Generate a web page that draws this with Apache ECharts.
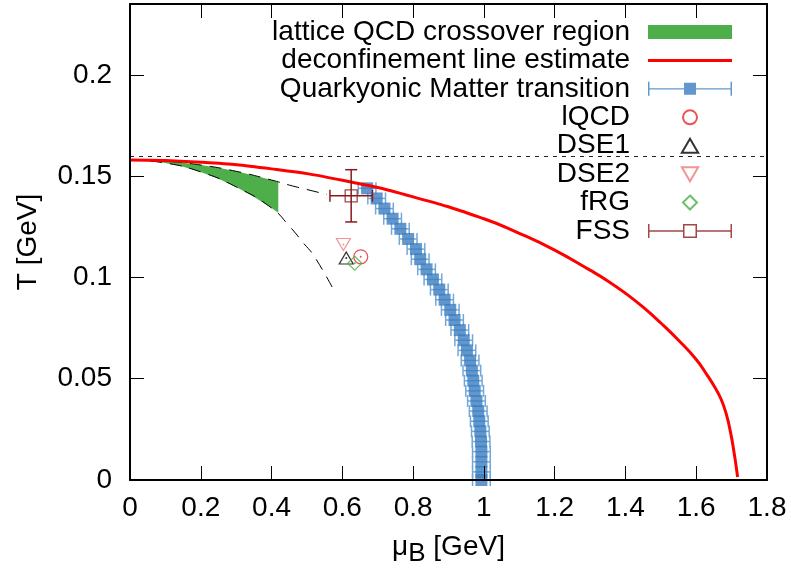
<!DOCTYPE html>
<html>
<head>
<meta charset="utf-8">
<script src="https://cdn.jsdelivr.net/npm/echarts@6/dist/echarts.min.js"></script>
<style>
  html, body { margin: 0; padding: 0; background: #fff; }
  #wrap { position: relative; width: 791px; height: 572px; }
  #chart, #frame { position: absolute; left: 0; top: 0; width: 791px; height: 572px; }
  #frame { pointer-events: none; }
</style>
</head>
<body>
<div id="wrap">
  <div id="chart"></div>
  <div id="frame"></div>
</div>
<script>
// values: mu_B and T in GeV
var TC = 0.158;
var X_MIN = 0, X_MAX = 1.8, Y_MIN = 0, Y_MAX = 0.235;

// lattice QCD crossover band
var latticeMu    = [0, 0.05, 0.10, 0.15, 0.20, 0.25, 0.30, 0.35, 0.40, 0.419];
var latticeUpper = [0.158, 0.1578, 0.1574, 0.1566, 0.1555, 0.1541, 0.1524, 0.1503, 0.1481, 0.147];
var latticeLower = [0.158, 0.1576, 0.1565, 0.1547, 0.1521, 0.1487, 0.1447, 0.1399, 0.1343, 0.132];

// dashed extrapolations of the band edges
var upperDashMu = [0, 0.1, 0.2, 0.3, 0.4, 0.45, 0.5, 0.556];
var upperDashT  = [0.158, 0.1574, 0.1555, 0.1524, 0.1481, 0.1456, 0.1434, 0.141];
var lowerDashMu = [0, 0.1, 0.2, 0.3, 0.4, 0.45, 0.49, 0.52, 0.575];
var lowerDashT  = [0.158, 0.1565, 0.1521, 0.1447, 0.1343, 0.1254, 0.117, 0.1106, 0.094];

// deconfinement line estimate
var deconfMu = [0, 0.2, 0.4, 0.6, 0.8, 1.0, 1.1, 1.2, 1.3, 1.35, 1.4, 1.45, 1.5, 1.55,
                1.6, 1.63, 1.65, 1.67, 1.685, 1.697, 1.707, 1.713, 1.717];
var deconfT  = [0.158, 0.1569, 0.1536, 0.148, 0.1398, 0.129, 0.1218, 0.1135, 0.1036, 0.0983, 0.0922, 0.0853, 0.0775, 0.069,
                0.0595, 0.052, 0.0465, 0.040, 0.0325, 0.0235, 0.0135, 0.0065, 0.0015];

// Quarkyonic Matter transition
var qmT  = [0.144, 0.139, 0.134, 0.129, 0.124, 0.119, 0.114, 0.109, 0.104, 0.099,
            0.094, 0.089, 0.084, 0.079, 0.074, 0.069, 0.064, 0.059, 0.054, 0.049,
            0.044, 0.039, 0.034, 0.029, 0.024, 0.019, 0.014, 0.009, 0.004, 0.0];
var qmMu = [0.670, 0.697, 0.719, 0.742, 0.764, 0.786, 0.808, 0.820, 0.838, 0.856,
            0.874, 0.889, 0.905, 0.917, 0.932, 0.943, 0.952, 0.961, 0.966, 0.970,
            0.974, 0.979, 0.984, 0.987, 0.990, 0.992, 0.993, 0.993, 0.993, 0.993];
var QM_ERR = 0.025;

// single points
var lqcdPt = [0.652, 0.1102];
var dse1Pt = [0.611, 0.1096];
var dse2Pt = [0.603, 0.1163];
var frgPt  = [0.635, 0.107];
var fssPt  = [0.625, 0.1403];
var fssErr = [0.060, 0.0129];

var FONT = 'Liberation Sans, Arial, Helvetica, sans-serif';
var GREEN = '#4dae4a', RED = '#ff0000', BLUE = '#3a7dbf', BLUE_LT = '#72a8d9';
var MAROON = '#8b1a1a', SALMON = '#f07b7b', DIAMOND = '#49ad45', LQCD_RED = '#e8262a';
var GRID = { left: 130, right: 24, top: 4, bottom: 92 };

function pairs(xs, ys) {
  return xs.map(function (x, i) { return [x, ys[i]]; });
}

function errBars(color, cap) {
  return function (params, api) {
    var x = api.value(0), y = api.value(1), ex = api.value(2), ey = api.value(3);
    var st = { stroke: color, lineWidth: 1.5 };
    var a = api.coord([x - ex, y]), b = api.coord([x + ex, y]);
    var kids = [
      { type: 'line', shape: { x1: a[0], y1: a[1], x2: b[0], y2: b[1] }, style: st },
      { type: 'line', shape: { x1: a[0], y1: a[1] - cap, x2: a[0], y2: a[1] + cap }, style: st },
      { type: 'line', shape: { x1: b[0], y1: b[1] - cap, x2: b[0], y2: b[1] + cap }, style: st }
    ];
    if (ey > 0) {
      var c = api.coord([x, y + ey]), d = api.coord([x, y - ey]);
      kids.push({ type: 'line', shape: { x1: c[0], y1: c[1], x2: d[0], y2: d[1] }, style: st });
      kids.push({ type: 'line', shape: { x1: c[0] - cap, y1: c[1], x2: c[0] + cap, y2: c[1] }, style: st });
      kids.push({ type: 'line', shape: { x1: d[0] - cap, y1: d[1], x2: d[0] + cap, y2: d[1] }, style: st });
    }
    return { type: 'group', children: kids };
  };
}

var ICON_BAND = 'path://M0 0H84V14H0Z';
var ICON_LINE = 'path://M0 0H84V3H0Z';
var ICON_QM = 'path://M0 0H1.5V14H0Z M82.5 0H84V14H82.5Z M1.5 6.3H82.5V7.7H1.5Z M36 1H48V13H36Z';
var ICON_FSS = 'path://M0 0H1.5V14H0Z M82.5 0H84V14H82.5Z M1.5 6.3H35V7.7H1.5Z M49 6.3H82.5V7.7H49Z M35 0H49V14H35Z M36.5 1.5V12.5H47.5V1.5Z';

var SYM_UP = 'path://M7 0L14 12L0 12Z';
var SYM_DOWN = 'path://M0 0L14 0L7 12Z';
var SYM_DIAMOND = 'path://M7 0L14 7L7 14L0 7Z';

// main chart: data, labels, legend
var chart = echarts.init(document.getElementById('chart'));
chart.setOption({
  animation: false,
  backgroundColor: '#fff',
  textStyle: { fontFamily: FONT },
  grid: GRID,
  xAxis: {
    type: 'value', min: X_MIN, max: X_MAX, interval: 0.2,
    axisLine: { show: false }, axisTick: { show: false }, splitLine: { show: false },
    name: 'μ{b|B} [GeV]', nameLocation: 'middle', nameGap: 47,
    nameTextStyle: { fontSize: 28, color: '#000',
      rich: { b: { fontSize: 26, padding: [14, 0, 0, 0], color: '#000' } } },
    axisLabel: { fontSize: 28, color: '#000', margin: 14 }
  },
  yAxis: {
    type: 'value', min: Y_MIN, max: Y_MAX, interval: 0.05,
    axisLine: { show: false }, axisTick: { show: false }, splitLine: { show: false },
    name: 'T [GeV]', nameLocation: 'middle', nameGap: 88,
    nameTextStyle: { fontSize: 28, color: '#000' },
    axisLabel: { fontSize: 28, color: '#000', margin: 18, showMaxLabel: false }
  },
  legend: {
    orient: 'vertical', align: 'right', right: 59, top: 18, padding: 0,
    itemGap: 0.43, itemWidth: 84, itemHeight: 14, symbolKeepAspect: true,
    textStyle: { fontSize: 28, lineHeight: 28, color: '#000', padding: [0, 13, 0, 0] },
    data: [
      { name: 'lattice QCD crossover region', icon: ICON_BAND, itemStyle: { color: GREEN, borderWidth: 0 } },
      { name: 'deconfinement line estimate', icon: ICON_LINE, itemStyle: { color: RED, borderWidth: 0 } },
      { name: 'Quarkyonic Matter transition', icon: ICON_QM, itemStyle: { color: BLUE, borderWidth: 0 } },
      { name: 'lQCD' },
      { name: 'DSE1' },
      { name: 'DSE2' },
      { name: 'fRG' },
      { name: 'FSS', icon: ICON_FSS, itemStyle: { color: MAROON, borderWidth: 0 } }
    ]
  },
  series: [
    {
      name: 'lattice QCD crossover region',
      type: 'custom', z: 2,
      itemStyle: { color: GREEN },
      data: [[latticeMu[0], latticeUpper[0]]],
      renderItem: function (params, api) {
        var pts = [], i;
        for (i = 0; i < latticeMu.length; i++) pts.push(api.coord([latticeMu[i], latticeUpper[i]]));
        for (i = latticeMu.length - 1; i >= 0; i--) pts.push(api.coord([latticeMu[i], latticeLower[i]]));
        return { type: 'polygon', shape: { points: pts }, style: { fill: GREEN } };
      }
    },
    {
      name: 'upper edge', type: 'line', z: 3, smooth: true, showSymbol: false, symbol: 'none',
      data: pairs(upperDashMu, upperDashT),
      lineStyle: { color: '#000', width: 1, type: [12, 8] }
    },
    {
      name: 'lower edge', type: 'line', z: 3, smooth: true, showSymbol: false, symbol: 'none',
      data: pairs(lowerDashMu, lowerDashT),
      lineStyle: { color: '#000', width: 1, type: [12, 8] }
    },
    {
      name: 'qm-err', type: 'custom', z: 4,
      data: qmMu.map(function (m, i) { return [m, qmT[i], QM_ERR, 0]; }),
      renderItem: errBars(BLUE_LT, 6)
    },
    {
      name: 'Quarkyonic Matter transition', type: 'scatter', z: 5, clip: false,
      symbol: 'rect', symbolSize: 12,
      itemStyle: { color: BLUE },
      data: pairs(qmMu, qmT)
    },
    {
      name: 'deconfinement line estimate', type: 'line', z: 6, smooth: true,
      showSymbol: false, symbol: 'none',
      lineStyle: { color: RED, width: 3 },
      itemStyle: { color: RED },
      data: pairs(deconfMu, deconfT),
      markLine: {
        silent: true, symbol: 'none', label: { show: false },
        lineStyle: { color: '#222', width: 1, type: [4, 5] },
        data: [{ yAxis: TC }]
      }
    },
    {
      name: 'lQCD', type: 'scatter', z: 7, symbol: 'circle', symbolSize: 14,
      itemStyle: { color: 'transparent', borderColor: LQCD_RED, borderWidth: 1.2 },
      data: [lqcdPt]
    },
    {
      name: 'DSE1', type: 'scatter', z: 7, symbol: SYM_UP, symbolSize: [14, 12],
      itemStyle: { color: 'transparent', borderColor: '#000', borderWidth: 1.2 },
      data: [dse1Pt]
    },
    {
      name: 'DSE2', type: 'scatter', z: 7, symbol: SYM_DOWN, symbolSize: [14, 12],
      itemStyle: { color: 'transparent', borderColor: SALMON, borderWidth: 1.2 },
      data: [dse2Pt]
    },
    {
      name: 'fRG', type: 'scatter', z: 7, symbol: SYM_DIAMOND, symbolSize: 14,
      itemStyle: { color: 'transparent', borderColor: DIAMOND, borderWidth: 1.2 },
      data: [frgPt]
    },
    {
      name: 'fss-err', type: 'custom', z: 7,
      data: [[fssPt[0], fssPt[1], fssErr[0], fssErr[1]]],
      renderItem: errBars(MAROON, 6)
    },
    {
      name: 'FSS', type: 'scatter', z: 8, symbol: 'rect', symbolSize: 12,
      itemStyle: { color: 'transparent', borderColor: MAROON, borderWidth: 1.3 },
      data: [fssPt]
    },
    {
      // centre dots of the open markers
      name: 'dots', type: 'scatter', z: 9, symbol: 'circle', symbolSize: 2, silent: true,
      data: [
        { value: lqcdPt, itemStyle: { color: LQCD_RED } },
        { value: dse1Pt, itemStyle: { color: '#000' } },
        { value: dse2Pt, itemStyle: { color: SALMON } },
        { value: frgPt, itemStyle: { color: DIAMOND } },
        { value: fssPt, itemStyle: { color: MAROON } }
      ]
    }
  ]
});

// second, transparent instance on top: the gnuplot-style box with inward ticks
function boxAxis(pos, min, max, interval) {
  return {
    type: 'value', position: pos, min: min, max: max, interval: interval,
    axisLine: { show: true, onZero: false, lineStyle: { color: '#000', width: 2 } },
    axisTick: { show: true, inside: true, length: 14 },
    splitLine: { show: false },
    axisLabel: { show: false }
  };
}
var frame = echarts.init(document.getElementById('frame'));
frame.setOption({
  animation: false,
  grid: { left: GRID.left, right: GRID.right, top: GRID.top, bottom: GRID.bottom },
  xAxis: [boxAxis('bottom', X_MIN, X_MAX, 0.2), boxAxis('top', X_MIN, X_MAX, 0.2)],
  yAxis: [boxAxis('left', Y_MIN, Y_MAX, 0.05), boxAxis('right', Y_MIN, Y_MAX, 0.05)],
  series: [{ type: 'line', data: [] }]
});
</script>
</body>
</html>
